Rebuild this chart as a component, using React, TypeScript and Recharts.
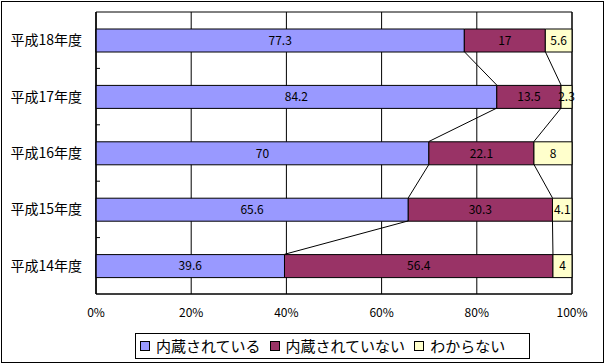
import React from 'react';
import {
  BarChart, Bar, XAxis, YAxis, CartesianGrid, Legend, LabelList, ReferenceLine, ReferenceArea,
} from 'recharts';

// 年度ごとの内訳（％）
const years = ['平成18年度', '平成17年度', '平成16年度', '平成15年度', '平成14年度'];
const builtIn = [77.3, 84.2, 70, 65.6, 39.6];
const notBuiltIn = [17, 13.5, 22.1, 30.3, 56.4];
const unknown = [5.6, 2.3, 8, 4.1, 4];

const seriesNames = ['内蔵されている', '内蔵されていない', 'わからない'];
const seriesColors = ['#9999FF', '#993366', '#FFFFCC'];
const xTicks = [0, 0.2, 0.4, 0.6, 0.8, 1];

const BAR_SIZE = 23;
const FONT = '"Noto Sans CJK JP", "Noto Sans", sans-serif';

const data = years.map((name, i) => ({
  name,
  a: builtIn[i],
  b: notBuiltIn[i],
  c: unknown[i],
}));

// 100%積み上げの境界位置（系列線用）
const total = (i: number) => builtIn[i] + notBuiltIn[i] + unknown[i];
const cum1 = years.map((_, i) => builtIn[i] / total(i));
const cum2 = years.map((_, i) => (builtIn[i] + notBuiltIn[i]) / total(i));

// 区分線: 上の棒の下端 → 下の棒の上端
const SeriesLineShape = (props: any) => {
  const { x1, y1, x2, y2 } = props;
  if (x1 == null) return null;
  return <line x1={x1} y1={y1 + BAR_SIZE / 2} x2={x2} y2={y2 - BAR_SIZE / 2} stroke="#000" strokeWidth={1} />;
};

// Y軸の目盛（カテゴリの境目、内向き）
const BoundaryTickShape = (props: any) => {
  const { x1, y1, y2 } = props;
  if (x1 == null) return null;
  const y = (y1 + y2) / 2;
  return <line x1={x1} y1={y} x2={x1 + 4} y2={y} stroke="#000" strokeWidth={1} />;
};

const LegendContent = () => (
  <div
    style={{
      display: 'flex', alignItems: 'center', height: 26, boxSizing: 'border-box',
      border: '1px solid #000', background: '#fff', paddingLeft: 4, fontFamily: FONT, fontSize: 15, color: '#000',
    }}
  >
    {seriesNames.map((n, i) => (
      <div key={n} style={{ display: 'flex', alignItems: 'center', marginRight: 9 }}>
        <span style={{ width: 8, height: 8, border: '1px solid #000', background: seriesColors[i], marginRight: 6 }} />
        <span style={{ lineHeight: '24px' }}>{n}</span>
      </div>
    ))}
  </div>
);

export default function App() {
  const pct = (v: number) => `${Math.round(v * 100)}%`;
  return (
    <div style={{ position: 'absolute', left: 0, top: 0, width: 605, height: 364, background: '#fff' }}>
      <div style={{ position: 'absolute', left: 1, top: 1, width: 601, height: 360, border: '1px solid #000' }} />
      <BarChart
        width={605}
        height={364}
        data={data}
        layout="vertical"
        stackOffset="expand"
        barSize={BAR_SIZE}
        margin={{ top: 12, right: 33, left: 0, bottom: 5 }}
      >
        <CartesianGrid horizontal={false} stroke="#000" strokeWidth={1} />
        <XAxis
          type="number"
          domain={[0, 1]}
          ticks={xTicks}
          tickFormatter={pct}
          height={39}
          axisLine={{ stroke: '#000' }}
          tickLine={false}
          tickMargin={8}
          tick={{ fill: '#000', fontSize: 12, fontFamily: FONT }}
        />
        <YAxis
          type="category"
          dataKey="name"
          width={96}
          axisLine={{ stroke: '#000' }}
          tickLine={false}
          tickMargin={8}
          tick={{ fill: '#000', fontSize: 14, fontFamily: FONT }}
        />
        <ReferenceArea x1={0} x2={1} fill="none" stroke="#000" strokeWidth={1} />
        <Bar dataKey="a" stackId="s" fill={seriesColors[0]} stroke="#000" strokeWidth={1} isAnimationActive={false} name={seriesNames[0]}>
          <LabelList dataKey="a" position="center" fill="#000" fontSize={12} fontFamily={FONT} />
        </Bar>
        <Bar dataKey="b" stackId="s" fill={seriesColors[1]} stroke="#000" strokeWidth={1} isAnimationActive={false} name={seriesNames[1]}>
          <LabelList dataKey="b" position="center" fill="#000" fontSize={12} fontFamily={FONT} />
        </Bar>
        <Bar dataKey="c" stackId="s" fill={seriesColors[2]} stroke="#000" strokeWidth={1} isAnimationActive={false} name={seriesNames[2]}>
          <LabelList dataKey="c" position="center" fill="#000" fontSize={12} fontFamily={FONT} />
        </Bar>
        {years.slice(0, -1).map((y, i) => (
          <ReferenceLine
            key={`s1-${y}`}
            segment={[{ x: cum1[i], y }, { x: cum1[i + 1], y: years[i + 1] }]}
            shape={SeriesLineShape}
          />
        ))}
        {years.slice(0, -1).map((y, i) => (
          <ReferenceLine
            key={`s2-${y}`}
            segment={[{ x: cum2[i], y }, { x: cum2[i + 1], y: years[i + 1] }]}
            shape={SeriesLineShape}
          />
        ))}
        {years.slice(0, -1).map((y, i) => (
          <ReferenceLine
            key={`t-${y}`}
            segment={[{ x: 0, y }, { x: 0, y: years[i + 1] }]}
            shape={BoundaryTickShape}
          />
        ))}
        <Legend
          verticalAlign="bottom"
          content={<LegendContent />}
          wrapperStyle={{ left: 135, width: 395, bottom: 5 }}
        />
      </BarChart>
    </div>
  );
}
